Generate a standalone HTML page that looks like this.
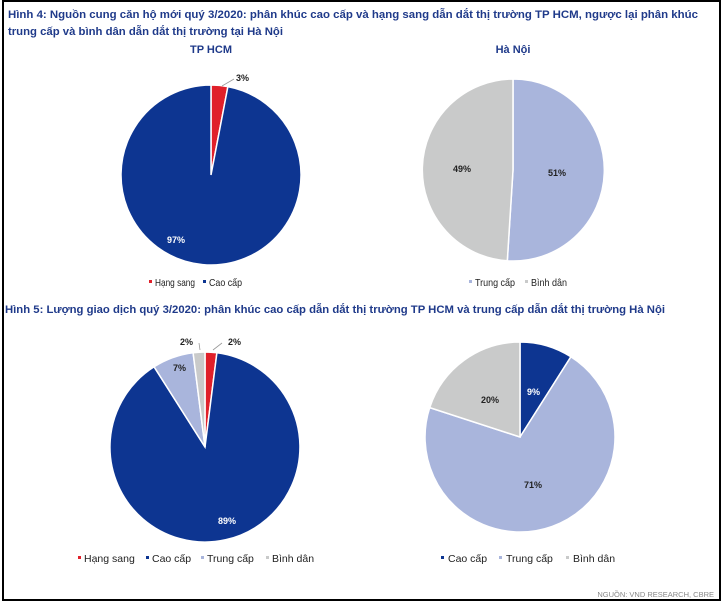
<!DOCTYPE html>
<html><head><meta charset="utf-8"><style>
html,body{margin:0;padding:0;background:#fff;}
svg{display:block;}
text{font-family:"Liberation Sans","DejaVu Sans",sans-serif;}
.t{fill:#1f3a8a;font-weight:bold;font-size:11px;}
.l{fill:#222;font-size:10.5px;}
.p{font-weight:bold;font-size:9px;}
</style></head><body>
<svg width="723" height="604" viewBox="0 0 723 604" xmlns="http://www.w3.org/2000/svg">
<rect x="3" y="1" width="717" height="599" fill="#fff" stroke="#000" stroke-width="2"/>
<text class="t" x="8" y="18" textLength="690" lengthAdjust="spacingAndGlyphs">Hình 4: Nguồn cung căn hộ mới quý 3/2020: phân khúc cao cấp và hạng sang dẫn dắt thị trường TP HCM, ngược lại phân khúc</text>
<text class="t" x="8" y="35" textLength="275" lengthAdjust="spacingAndGlyphs">trung cấp và bình dân dẫn dắt thị trường tại Hà Nội</text>
<text class="t" x="211" y="53" text-anchor="middle">TP HCM</text>
<text class="t" x="513" y="53" text-anchor="middle">Hà Nội</text>
<g stroke="#fff" stroke-width="1.5">
<path d="M211,175 L211,85 A90,90 0 0 1 227.9,86.6 Z" fill="#e0202a"/>
<path d="M211,175 L227.9,86.6 A90,90 0 1 1 211,85 Z" fill="#0d3591"/>
<path d="M513,170 L513,79 A91,91 0 1 1 507.3,260.8 Z" fill="#a9b5dc"/>
<path d="M513,170 L507.3,260.8 A91,91 0 0 1 513,79 Z" fill="#c9caca"/>
</g>
<line x1="222" y1="86" x2="234" y2="79" stroke="#999" stroke-width="0.8"/>
<text class="p" x="236" y="81" fill="#222">3%</text>
<text class="p" x="167" y="243" fill="#fff">97%</text>
<text class="p" x="453" y="172" fill="#222">49%</text>
<text class="p" x="548" y="176" fill="#222">51%</text>
<rect x="149" y="280" width="3" height="3" fill="#e0202a"/>
<text class="l" x="155" y="286" font-size="10" textLength="40" lengthAdjust="spacingAndGlyphs">Hạng sang</text>
<rect x="203" y="280" width="3" height="3" fill="#0d3591"/>
<text class="l" x="209" y="286" font-size="10" textLength="33" lengthAdjust="spacingAndGlyphs">Cao cấp</text>
<rect x="469" y="280" width="3" height="3" fill="#a9b5dc"/>
<text class="l" x="475" y="286" font-size="10" textLength="40" lengthAdjust="spacingAndGlyphs">Trung cấp</text>
<rect x="525" y="280" width="3" height="3" fill="#c9caca"/>
<text class="l" x="531" y="286" font-size="10" textLength="36" lengthAdjust="spacingAndGlyphs">Bình dân</text>
<text class="t" x="5" y="313" textLength="660" lengthAdjust="spacingAndGlyphs">Hình 5: Lượng giao dịch quý 3/2020: phân khúc cao cấp dẫn dắt thị trường TP HCM và trung cấp dẫn dắt thị trường Hà Nội</text>
<g stroke="#fff" stroke-width="1.5">
<path d="M205,447 L205,352 A95,95 0 0 1 216.9,352.8 Z" fill="#e0202a"/>
<path d="M205,447 L216.9,352.8 A95,95 0 1 1 154.1,366.8 Z" fill="#0d3591"/>
<path d="M205,447 L154.1,366.8 A95,95 0 0 1 193.1,352.8 Z" fill="#a9b5dc"/>
<path d="M205,447 L193.1,352.8 A95,95 0 0 1 205,352 Z" fill="#c9caca"/>
<path d="M520,437 L520,342 A95,95 0 0 1 570.9,356.8 Z" fill="#0d3591"/>
<path d="M520,437 L570.9,356.8 A95,95 0 1 1 429.7,407.6 Z" fill="#a9b5dc"/>
<path d="M520,437 L429.7,407.6 A95,95 0 0 1 520,342 Z" fill="#c9caca"/>
</g>
<line x1="200" y1="350" x2="199" y2="343" stroke="#999" stroke-width="0.8"/>
<line x1="213" y1="350" x2="222" y2="343" stroke="#999" stroke-width="0.8"/>
<text class="p" x="180" y="345" fill="#222">2%</text>
<text class="p" x="228" y="345" fill="#222">2%</text>
<text class="p" x="173" y="371" fill="#222">7%</text>
<text class="p" x="218" y="524" fill="#fff">89%</text>
<text class="p" x="527" y="395" fill="#fff">9%</text>
<text class="p" x="481" y="403" fill="#222">20%</text>
<text class="p" x="524" y="488" fill="#222">71%</text>
<rect x="78" y="556" width="3" height="3" fill="#e0202a"/>
<text class="l" x="84" y="562">Hạng sang</text>
<rect x="146" y="556" width="3" height="3" fill="#0d3591"/>
<text class="l" x="152" y="562">Cao cấp</text>
<rect x="201" y="556" width="3" height="3" fill="#a9b5dc"/>
<text class="l" x="207" y="562">Trung cấp</text>
<rect x="266" y="556" width="3" height="3" fill="#c9caca"/>
<text class="l" x="272" y="562">Bình dân</text>
<rect x="441" y="556" width="3" height="3" fill="#0d3591"/>
<text class="l" x="448" y="562">Cao cấp</text>
<rect x="499" y="556" width="3" height="3" fill="#a9b5dc"/>
<text class="l" x="506" y="562">Trung cấp</text>
<rect x="566" y="556" width="3" height="3" fill="#c9caca"/>
<text class="l" x="573" y="562">Bình dân</text>
<text x="714" y="597" text-anchor="end" font-size="7.5" fill="#888">NGUỒN: VND RESEARCH, CBRE</text>
</svg>
</body></html>
